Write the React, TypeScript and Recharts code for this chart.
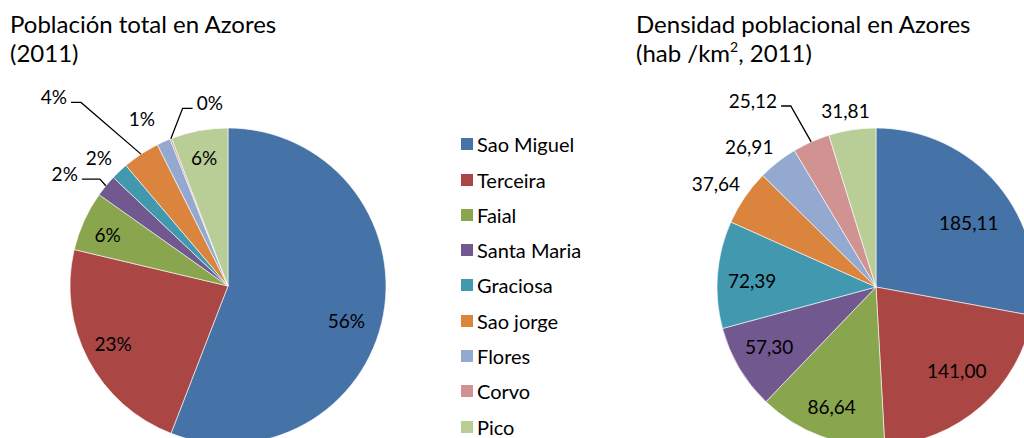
import React from 'react';
import { PieChart, Pie, Cell, Legend } from 'recharts';

const CATEGORIES = ['Sao Miguel', 'Terceira', 'Faial', 'Santa Maria', 'Graciosa', 'Sao jorge', 'Flores', 'Corvo', 'Pico'];
// share of total population (%), 2011
const POPULATION_SHARE = [55.8, 22.8, 6.1, 2.25, 1.75, 3.8, 1.4, 0.17, 5.8];
// population density (hab/km2), 2011
const DENSITY = [185.11, 141.0, 86.64, 57.3, 72.39, 37.64, 26.91, 25.12, 31.81];
const COLORS = ['#4572A7', '#AA4643', '#89A54E', '#71588F', '#4198AF', '#DB843D', '#93A9CF', '#D19392', '#B9CD96'];

const TITLE_LEFT = ['Población total en Azores', '(2011)'];
const TITLE_RIGHT = 'Densidad poblacional en Azores';

const FONT = 'Lato, "Open Sans", sans-serif';

const popData = CATEGORIES.map((name, i) => ({ name, value: POPULATION_SHARE[i] }));
const denData = CATEGORIES.map((name, i) => ({ name, value: DENSITY[i] }));

type Cfg =
  | { kind: 'pos'; rf: number; da: number }
  | { kind: 'leader'; ex: number; ey: number; h: number };

const LEFT_CFG: Cfg[] = [
  { kind: 'pos', rf: 0.78, da: 5.7 },
  { kind: 'pos', rf: 0.815, da: 1 },
  { kind: 'pos', rf: 0.83, da: -1 },
  { kind: 'leader', ex: -6, ey: -6.7, h: -18 },
  { kind: 'pos', rf: 1.155, da: -1.6 },
  { kind: 'leader', ex: -60, ey: -51.7, h: -10 },
  { kind: 'pos', rf: 1.19, da: -3.2 },
  { kind: 'leader', ex: 11.8, ey: -30.4, h: 10 },
  { kind: 'pos', rf: 0.83, da: 0 },
];

const RIGHT_CFG: Cfg[] = [
  { kind: 'pos', rf: 0.71, da: 5.1 },
  { kind: 'pos', rf: 0.73, da: -2.7 },
  { kind: 'pos', rf: 0.8, da: 0.1 },
  { kind: 'pos', rf: 0.77, da: 1.5 },
  { kind: 'pos', rf: 0.78, da: -1.6 },
  { kind: 'pos', rf: 1.2, da: -1.4 },
  { kind: 'pos', rf: 1.19, da: -3.9 },
  { kind: 'leader', ex: -20.4, ey: -35.8, h: -9.7 },
  { kind: 'pos', rf: 1.125, da: -1.2 },
];

const RAD = Math.PI / 180;
const LABEL_SIZE = 19;

function makeLabel(cfg: Cfg[], fmt: (value: number, percent: number) => string) {
  return (props: any) => {
    const { cx, cy, midAngle, outerRadius, index, percent, value } = props;
    const c = cfg[index];
    const text = fmt(value, percent);
    if (!c) return null;
    if (c.kind === 'leader') {
      const ex = cx + outerRadius * Math.cos(-midAngle * RAD);
      const ey = cy + outerRadius * Math.sin(-midAngle * RAD);
      const bx = ex + c.ex;
      const by = ey + c.ey;
      const hx = bx + c.h;
      return (
        <g>
          <polyline points={`${ex},${ey} ${bx},${by} ${hx},${by}`} fill="none" stroke="#000" strokeWidth={1.3} />
          <text
            x={hx + (c.h < 0 ? -4 : 4)}
            y={by + 2}
            textAnchor={c.h < 0 ? 'end' : 'start'}
            fontFamily={FONT}
            fontSize={LABEL_SIZE}
            fill="#000"
          >
            {text}
          </text>
        </g>
      );
    }
    const a = midAngle - c.da;
    const r = outerRadius * c.rf;
    const x = cx + r * Math.cos(-a * RAD);
    const y = cy + r * Math.sin(-a * RAD);
    return (
      <text x={x} y={y} textAnchor="middle" dominantBaseline="central" fontFamily={FONT} fontSize={LABEL_SIZE} fill="#000">
        {text}
      </text>
    );
  };
}

const leftLabel = makeLabel(LEFT_CFG, (_v, p) => `${Math.round(p * 100)}%`);
const rightLabel = makeLabel(RIGHT_CFG, (v) => v.toFixed(2).replace('.', ','));

const renderLegend = () => (
  <div style={{ fontFamily: FONT, fontSize: 20, color: '#000' }}>
    {CATEGORIES.map((name, i) => (
      <div key={name} style={{ height: 35.3, display: 'flex', alignItems: 'center' }}>
        <span style={{ display: 'inline-block', width: 12, height: 12, background: COLORS[i], marginRight: 4 }} />
        <span style={{ lineHeight: '20px' }}>{name}</span>
      </div>
    ))}
  </div>
);

export default function App() {
  return (
    <div style={{ position: 'absolute', left: 0, top: 0, width: 1024, height: 438, background: '#fff', overflow: 'hidden' }}>
      <PieChart width={1024} height={438} margin={{ top: 0, right: 0, bottom: 0, left: 0 }}>
        <Pie
          data={popData}
          dataKey="value"
          nameKey="name"
          cx={228}
          cy={286}
          outerRadius={158}
          startAngle={90}
          endAngle={-270}
          stroke="#ffffff"
          strokeWidth={0.6}
          labelLine={false}
          label={leftLabel}
          isAnimationActive={false}
        >
          {popData.map((d, i) => (
            <Cell key={d.name} fill={COLORS[i]} />
          ))}
        </Pie>
        <Pie
          data={denData}
          dataKey="value"
          nameKey="name"
          cx={876}
          cy={287}
          outerRadius={159}
          startAngle={90}
          endAngle={-270}
          stroke="#ffffff"
          strokeWidth={0.6}
          labelLine={false}
          label={rightLabel}
          isAnimationActive={false}
        >
          {denData.map((d, i) => (
            <Cell key={d.name} fill={COLORS[i]} />
          ))}
        </Pie>
        <Legend
          layout="vertical"
          verticalAlign="middle"
          align="center"
          content={renderLegend}
          wrapperStyle={{ position: 'absolute', left: 461, top: 126.6, width: 160, height: 320 }}
        />
      </PieChart>
      <svg width={1024} height={438} style={{ position: 'absolute', left: 0, top: 0, pointerEvents: 'none' }}>
        <g fontFamily={FONT} fontSize={24} fill="#000">
          <text x={10} y={33.3}>{TITLE_LEFT[0]}</text>
          <text x={10} y={61.7}>{TITLE_LEFT[1]}</text>
          <text x={636} y={33.3}>{TITLE_RIGHT}</text>
          <text x={636} y={61.7}>
            (hab /km
            <tspan fontSize={14} dy={-10}>2</tspan>
            <tspan dy={10}>, 2011)</tspan>
          </text>
        </g>
      </svg>
    </div>
  );
}
